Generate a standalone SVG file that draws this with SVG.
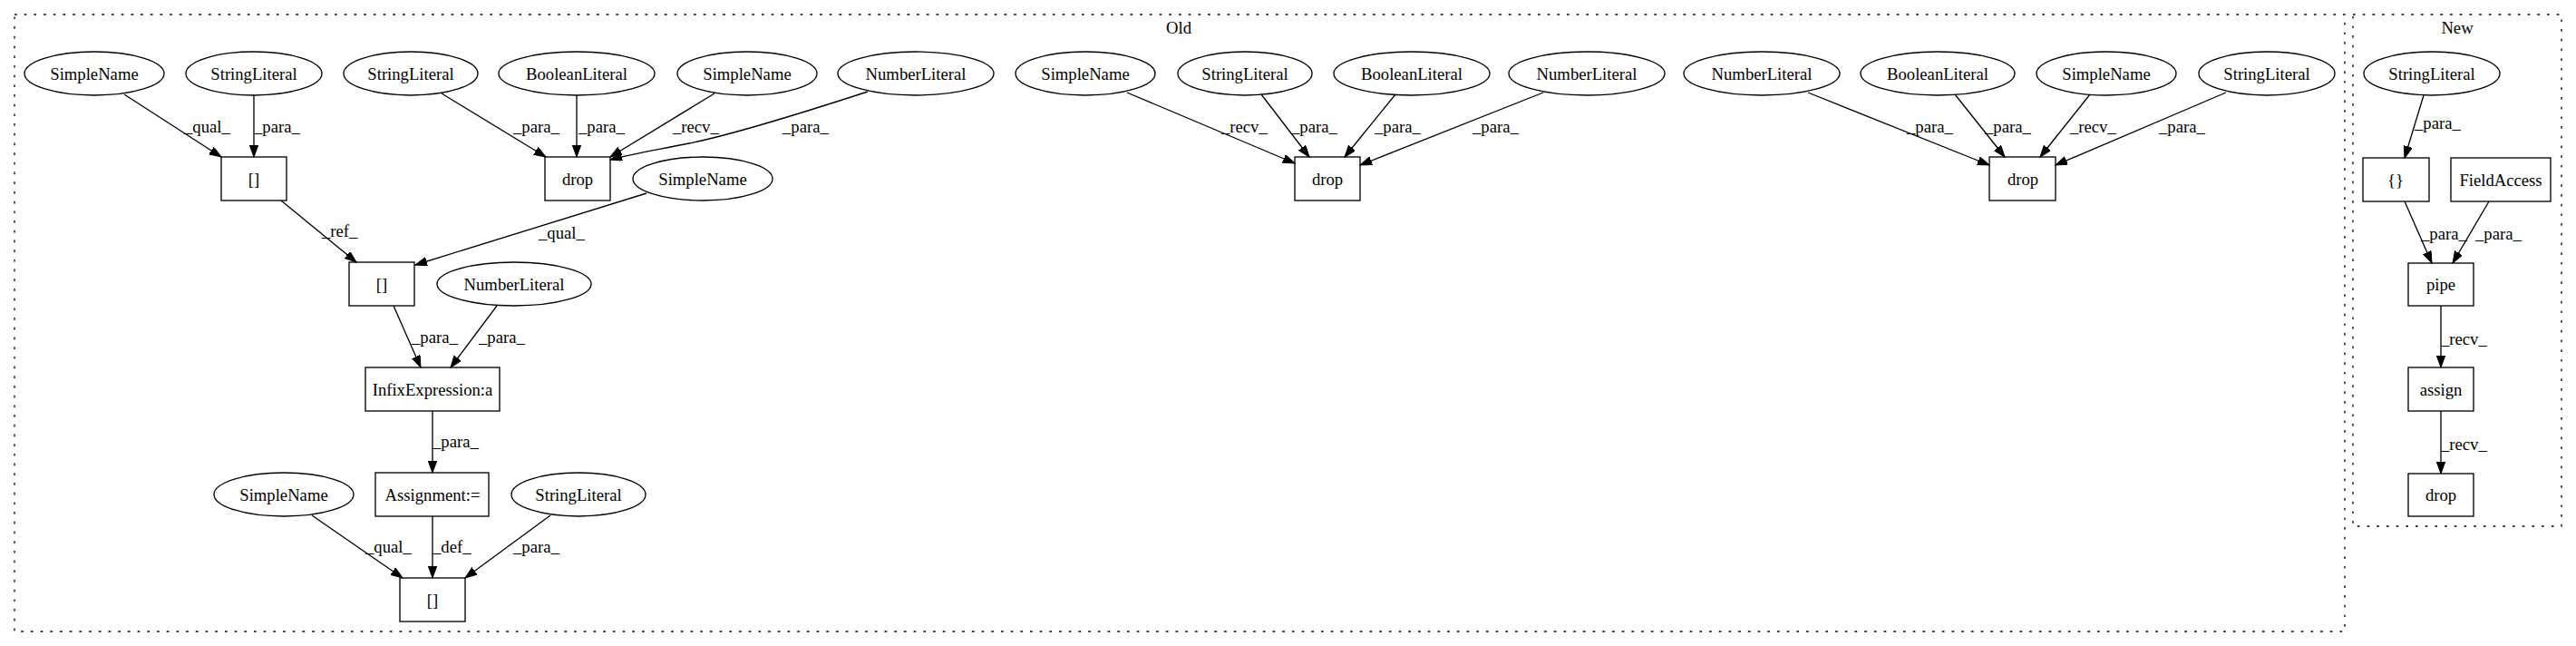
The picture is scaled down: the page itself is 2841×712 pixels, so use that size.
<svg xmlns="http://www.w3.org/2000/svg" width="2841" height="712" viewBox="0 0 2841 712">
<style>
text{font-family:"Liberation Serif","Times New Roman",serif;font-size:18.67px;fill:#000}
.n text{text-anchor:middle}
.n ellipse,.n rect{fill:none;stroke:#000;stroke-width:1.33}
.cl{fill:none;stroke:#000;stroke-width:1.33;stroke-dasharray:2.7,8}
.e path{fill:none;stroke:#000;stroke-width:1.33;marker-end:url(#ah)}
.e text{text-anchor:start}
</style>
<defs>
<marker id="ah" markerUnits="userSpaceOnUse" markerWidth="14" markerHeight="10" refX="13" refY="4.7" orient="auto">
<path d="M0,0 L13,4.7 L0,9.4 z" fill="#000" stroke="#000" stroke-width="1"/>
</marker>
</defs>
<rect width="2841" height="712" fill="#fff"/>
<g id="clusters">
<rect class="cl" x="16" y="16" width="2570" height="680"/>
<text x="1300" y="37" text-anchor="middle">Old</text>
<rect class="cl" x="2595" y="16" width="230" height="564"/>
<text x="2710" y="37" text-anchor="middle">New</text>
</g>
<g id="nodes" class="n">
<g id="sa"><ellipse cx="104" cy="81" rx="77" ry="24"/><text x="104" y="87.5">SimpleName</text></g>
<g id="stra"><ellipse cx="280" cy="81" rx="75" ry="24"/><text x="280" y="87.5">StringLiteral</text></g>
<g id="strb"><ellipse cx="453" cy="81" rx="74" ry="24"/><text x="453" y="87.5">StringLiteral</text></g>
<g id="boolb"><ellipse cx="636" cy="81" rx="86" ry="24"/><text x="636" y="87.5">BooleanLiteral</text></g>
<g id="sb"><ellipse cx="824" cy="81" rx="77" ry="24"/><text x="824" y="87.5">SimpleName</text></g>
<g id="numb"><ellipse cx="1010" cy="81" rx="86" ry="24"/><text x="1010" y="87.5">NumberLiteral</text></g>
<g id="sc"><ellipse cx="1197" cy="81" rx="77" ry="24"/><text x="1197" y="87.5">SimpleName</text></g>
<g id="strc"><ellipse cx="1373" cy="81" rx="74" ry="24"/><text x="1373" y="87.5">StringLiteral</text></g>
<g id="boolc"><ellipse cx="1557" cy="81" rx="86" ry="24"/><text x="1557" y="87.5">BooleanLiteral</text></g>
<g id="numc"><ellipse cx="1750" cy="81" rx="86" ry="24"/><text x="1750" y="87.5">NumberLiteral</text></g>
<g id="numd"><ellipse cx="1943" cy="81" rx="86" ry="24"/><text x="1943" y="87.5">NumberLiteral</text></g>
<g id="boold"><ellipse cx="2137" cy="81" rx="85" ry="24"/><text x="2137" y="87.5">BooleanLiteral</text></g>
<g id="sd"><ellipse cx="2323" cy="81" rx="77" ry="24"/><text x="2323" y="87.5">SimpleName</text></g>
<g id="strd"><ellipse cx="2500" cy="81" rx="75" ry="24"/><text x="2500" y="87.5">StringLiteral</text></g>
<g id="idx1"><rect x="244" y="173" width="72" height="48"/><text x="280" y="203.5">[]</text></g>
<g id="dropb"><rect x="601" y="173" width="72" height="48"/><text x="637" y="203.5">drop</text></g>
<g id="se"><ellipse cx="775" cy="197" rx="77" ry="24"/><text x="775" y="203.5">SimpleName</text></g>
<g id="dropc"><rect x="1428" y="173" width="72" height="48"/><text x="1464" y="203.5">drop</text></g>
<g id="dropd"><rect x="2194" y="173" width="73" height="48"/><text x="2231" y="203.5">drop</text></g>
<g id="idx2"><rect x="385" y="289" width="72" height="48"/><text x="421" y="319.5">[]</text></g>
<g id="numf"><ellipse cx="567" cy="313" rx="85" ry="24"/><text x="567" y="319.5">NumberLiteral</text></g>
<g id="infix"><rect x="403" y="405" width="148" height="48"/><text x="477" y="435.5">InfixExpression:a</text></g>
<g id="sg"><ellipse cx="313" cy="545" rx="77" ry="24"/><text x="313" y="551.5">SimpleName</text></g>
<g id="asg"><rect x="414" y="521" width="125" height="48"/><text x="477" y="551.5">Assignment:=</text></g>
<g id="strg"><ellipse cx="638" cy="545" rx="74" ry="24"/><text x="638" y="551.5">StringLiteral</text></g>
<g id="idx3"><rect x="441" y="637" width="72" height="48"/><text x="477" y="667.5">[]</text></g>
<g id="strn"><ellipse cx="2682" cy="81" rx="75" ry="24"/><text x="2682" y="87.5">StringLiteral</text></g>
<g id="brace"><rect x="2606" y="174" width="73" height="48"/><text x="2642" y="204.5">{}</text></g>
<g id="fa"><rect x="2703" y="174" width="110" height="48"/><text x="2758" y="204.5">FieldAccess</text></g>
<g id="pipe"><rect x="2656" y="290" width="72" height="47"/><text x="2692" y="320">pipe</text></g>
<g id="assign"><rect x="2656" y="405" width="72" height="48"/><text x="2692" y="435.5">assign</text></g>
<g id="dropn"><rect x="2656" y="522" width="72" height="47"/><text x="2692" y="552">drop</text></g>
</g>
<g id="edges" class="e">
<path d="M137,104 L244,173"/><text x="203" y="146">_qual_</text>
<path d="M280,105 L280,173"/><text x="280" y="146">_para_</text>
<path d="M310,221 L393,289"/><text x="355" y="261">_ref_</text>
<path d="M713,213 L458,292"/><text x="594" y="263">_qual_</text>
<path d="M487,103 L602,173"/><text x="566" y="146">_para_</text>
<path d="M636,105 L636,173"/><text x="638" y="146">_para_</text>
<path d="M788,103 L673,173"/><text x="742" y="146">_recv_</text>
<path d="M957,101 C880,126 800,150 760,158 C720,166 695,170 673,176"/><text x="863" y="146">_para_</text>
<path d="M548,337 L497,405"/><text x="528" y="378">_para_</text>
<path d="M434,337 L464,405"/><text x="454" y="378">_para_</text>
<path d="M477,453 L477,521"/><text x="477" y="493">_para_</text>
<path d="M344,568 L444,637"/><text x="403" y="609">_qual_</text>
<path d="M477,569 L477,637"/><text x="477" y="609">_def_</text>
<path d="M607,568 L513,637"/><text x="566" y="609">_para_</text>
<path d="M1243,102 L1428,180"/><text x="1347" y="146">_recv_</text>
<path d="M1391,104 L1444,173"/><text x="1424" y="146">_para_</text>
<path d="M1539,104 L1483,173"/><text x="1516" y="146">_para_</text>
<path d="M1702,102 L1500,182"/><text x="1624" y="146">_para_</text>
<path d="M1994,102 L2194,182"/><text x="2103" y="146">_para_</text>
<path d="M2156,104 L2211,173"/><text x="2189" y="146">_para_</text>
<path d="M2305,104 L2250,173"/><text x="2283" y="146">_recv_</text>
<path d="M2455,102 L2267,182"/><text x="2381" y="146">_para_</text>
<path d="M2673,105 L2652,174"/><text x="2663" y="142">_para_</text>
<path d="M2652,222 L2682,290"/><text x="2670" y="264">_para_</text>
<path d="M2745,222 L2705,290"/><text x="2730" y="264">_para_</text>
<path d="M2692,337 L2692,405"/><text x="2692" y="380">_recv_</text>
<path d="M2692,453 L2692,522"/><text x="2692" y="496">_recv_</text>
</g>
</svg>
